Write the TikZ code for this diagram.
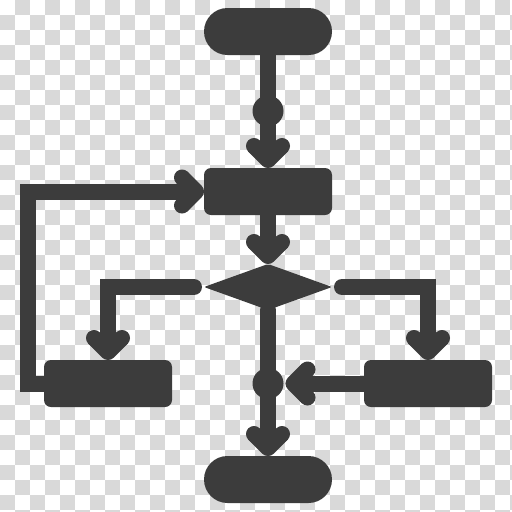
\documentclass[tikz,border=0pt]{standalone}
\usetikzlibrary{shapes.geometric}
\definecolor{ic}{HTML}{3C3C3C}
\definecolor{sq}{HTML}{D9D9D9}
\tikzset{
  shapefill/.style={fill=ic, draw=none, inner sep=0pt, outer sep=0pt},
  term/.style={shapefill, rectangle, rounded corners=23.5pt, minimum width=128pt, minimum height=47pt},
  proc/.style={shapefill, rectangle, rounded corners=7pt, minimum width=128pt, minimum height=47pt},
  dec/.style={shapefill, diamond, minimum width=128pt, minimum height=46pt, rounded corners=2pt},
  dot/.style={shapefill, circle, minimum size=31pt},
  conn/.style={draw=ic, line width=16pt, line cap=round},
  ahead/.pic={
    \draw[ic, line width=16pt, line cap=round, line join=round] (-14,-22) -- (0,-8) -- (14,-22);
    \fill[ic] (0,0) -- (20,-16.7) -- (14,-22) -- (0,-8) -- (-14,-22) -- (-20,-16.7) -- cycle;
  }
}
\begin{document}
\begin{tikzpicture}[x=1pt,y=-1pt]
\useasboundingbox (0,0) rectangle (512,512);
\clip (0,0) rectangle (512,512);
\fill[white] (0,0) rectangle (512,512);
\foreach \i in {0,...,34} {
  \foreach \j in {0,...,34} {
    \pgfmathtruncatemacro{\odd}{mod(\i+\j,2)}
    \ifnum\odd=1 \fill[sq] (\i*15,\j*15) rectangle ++(15,15); \fi
  }
}
% nodes
\node[term] (t1) at (268,31.5) {};
\node[proc] (b1) at (268,191.5) {};
\node[dec]  (d)  at (268,287) {};
\node[proc] (l)  at (108,383.5) {};
\node[proc] (r)  at (428,383.5) {};
\node[term] (t2) at (268,479.5) {};
\node[dot]  (k1) at (268,111) {};
\node[dot]  (k2) at (268,383.5) {};
% connectors
\draw[conn] (t1.south) -- ([yshift=14pt]b1.north);
\pic at (b1.north) {ahead};
\draw[conn] (b1.south) -- ([yshift=14pt]d.north);
\pic at (d.north) {ahead};
\draw[conn] ([xshift=-10pt]d.west) -| ([yshift=14pt]l.north);
\pic at (l.north) {ahead};
\draw[conn] ([xshift=10pt]d.east) -| ([yshift=14pt]r.north);
\pic at (r.north) {ahead};
\draw[conn] (l.west) -- ++(-16,0) |- ([xshift=-14pt]b1.west);
\pic[rotate=90] at (b1.west) {ahead};
\draw[conn] (r.west) -- ([xshift=16pt]k2.east);
\pic[rotate=-90] at ([xshift=2pt]k2.east) {ahead};
\draw[conn] (d.south) -- ([yshift=14pt]t2.north);
\pic at (t2.north) {ahead};
\end{tikzpicture}
\end{document}
